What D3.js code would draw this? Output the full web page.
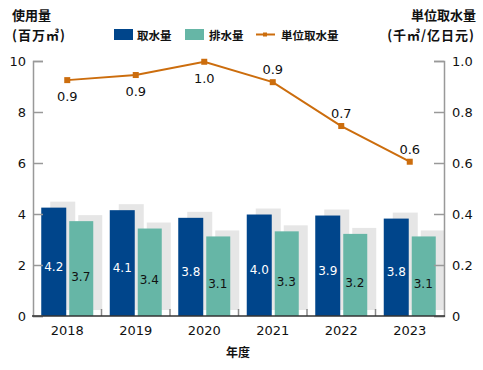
<!DOCTYPE html>
<html>
<head>
<meta charset="utf-8">
<script src="https://cdn.jsdelivr.net/npm/d3@7"></script>
<style>
  body { margin: 0; background: #fff; }
  text { font-family: 'DejaVu Sans', sans-serif; }
  .cjk { font-family: 'Noto Sans CJK JP', sans-serif; font-weight: 700; }
</style>
</head>
<body>
<div id="chart"></div>
<script>
const years = ['2018', '2019', '2020', '2021', '2022', '2023'];
const intake = [4.25, 4.15, 3.85, 3.98, 3.94, 3.82];
const intakeLabels = ['4.2', '4.1', '3.8', '4.0', '3.9', '3.8'];
const discharge = [3.72, 3.43, 3.12, 3.32, 3.22, 3.12];
const dischargeLabels = ['3.7', '3.4', '3.1', '3.3', '3.2', '3.1'];
const unitIntake = [0.925, 0.945, 0.997, 0.917, 0.745, 0.605];
const unitLabels = ['0.9', '0.9', '1.0', '0.9', '0.7', '0.6'];
const unitBelow = [true, true, true, false, false, false];
const leftTicks = [0, 2, 4, 6, 8, 10];
const rightTicks = [0, 0.2, 0.4, 0.6, 0.8, 1.0];

const W = 483, H = 370;
const blue = '#00458b', teal = '#66b6a6', grey = '#e6e6e6', orange = '#cc6d0d';

const svg = d3.select('#chart').append('svg')
    .attr('width', W).attr('height', H);

const x = d3.scaleBand().domain(years).range([33, 444]);
const y = d3.scaleLinear().domain([0, 10]).range([316, 61]);
const y2 = d3.scaleLinear().domain([0, 1]).range([316, 61]);

const barW = 25, shX = 9, shY = 6;
const cx = d => x(d) + x.bandwidth() / 2;

svg.append('defs').append('clipPath').attr('id', 'plot')
    .append('rect').attr('x', 33).attr('y', 0).attr('width', 411).attr('height', 316);

// shadow bars
const shadow = svg.append('g').attr('clip-path', 'url(#plot)');
years.forEach((yr, i) => {
  shadow.append('rect')
      .attr('x', cx(yr) - 26 + shX).attr('y', y(intake[i]) - shY)
      .attr('width', barW).attr('height', y(0) - y(intake[i]))
      .attr('fill', grey);
  shadow.append('rect')
      .attr('x', cx(yr) + 2 + shX).attr('y', y(discharge[i]) - shY)
      .attr('width', barW - 1).attr('height', y(0) - y(discharge[i]))
      .attr('fill', grey);
});

// bars
svg.append('g').selectAll('rect').data(years).join('rect')
    .attr('x', d => cx(d) - 26)
    .attr('y', (d, i) => y(intake[i]))
    .attr('width', barW)
    .attr('height', (d, i) => y(0) - y(intake[i]))
    .attr('fill', blue);

svg.append('g').selectAll('rect').data(years).join('rect')
    .attr('x', d => cx(d) + 2)
    .attr('y', (d, i) => y(discharge[i]))
    .attr('width', barW - 1)
    .attr('height', (d, i) => y(0) - y(discharge[i]))
    .attr('fill', teal);

// bar labels
svg.append('g').selectAll('text').data(years).join('text')
    .attr('x', d => cx(d) - 13.5)
    .attr('y', (d, i) => (y(intake[i]) + y(0)) / 2 + 9)
    .attr('text-anchor', 'middle')
    .attr('font-size', 12)
    .attr('fill', '#fff')
    .text((d, i) => intakeLabels[i]);

svg.append('g').selectAll('text').data(years).join('text')
    .attr('x', d => cx(d) + 13.5)
    .attr('y', (d, i) => (y(discharge[i]) + y(0)) / 2 + 12)
    .attr('text-anchor', 'middle')
    .attr('font-size', 12)
    .attr('fill', '#111')
    .text((d, i) => dischargeLabels[i]);

// axes
const axL = svg.append('g').attr('transform', 'translate(33,0)')
    .call(d3.axisRight(y).tickValues(leftTicks).tickSize(10).tickFormat(''));
axL.select('.domain').attr('stroke', '#999').attr('stroke-width', 1.5);
axL.selectAll('.tick line').attr('stroke', '#999').attr('stroke-width', 1.5);
svg.append('g').selectAll('text').data(leftTicks).join('text')
    .attr('x', 26).attr('y', d => y(d) + 5)
    .attr('text-anchor', 'end').attr('font-size', 13).attr('fill', '#111')
    .text(d => d);

const axR = svg.append('g').attr('transform', 'translate(444,0)')
    .call(d3.axisLeft(y2).tickValues(rightTicks).tickSize(10).tickFormat(''));
axR.select('.domain').attr('stroke', '#999').attr('stroke-width', 1.5);
axR.selectAll('.tick line').attr('stroke', '#999').attr('stroke-width', 1.5);
svg.append('g').selectAll('text').data(rightTicks).join('text')
    .attr('x', 452).attr('y', d => y2(d) + 5)
    .attr('font-size', 13).attr('fill', '#111')
    .text(d => d === 0 ? '0' : d.toFixed(1));

const bounds = years.slice(1).map(d => x(d));
svg.append('g').selectAll('line').data(bounds).join('line')
    .attr('x1', d => d).attr('x2', d => d)
    .attr('y1', 316).attr('y2', 309)
    .attr('stroke', '#888').attr('stroke-width', 1.5);
svg.append('line')
    .attr('x1', 32).attr('x2', 445).attr('y1', 316).attr('y2', 316)
    .attr('stroke', '#333').attr('stroke-width', 1.5);

svg.append('g').selectAll('text').data(years).join('text')
    .attr('x', d => cx(d)).attr('y', 335)
    .attr('text-anchor', 'middle').attr('font-size', 13).attr('fill', '#111')
    .text(d => d);

svg.append('text').attr('class', 'cjk')
    .attr('x', 238).attr('y', 357).attr('text-anchor', 'middle')
    .attr('font-size', 12).attr('fill', '#111').text('年度');

// line
const line = d3.line()
    .x((d, i) => cx(years[i]))
    .y(d => y2(d));
svg.append('path').datum(unitIntake)
    .attr('d', line).attr('fill', 'none')
    .attr('stroke', orange).attr('stroke-width', 2);
svg.append('g').selectAll('rect').data(unitIntake).join('rect')
    .attr('x', (d, i) => cx(years[i]) - 3)
    .attr('y', d => y2(d) - 3)
    .attr('width', 6).attr('height', 6)
    .attr('fill', orange);
svg.append('g').selectAll('text').data(unitIntake).join('text')
    .attr('x', (d, i) => cx(years[i]))
    .attr('y', (d, i) => unitBelow[i] ? y2(d) + 21 : y2(d) - 8)
    .attr('text-anchor', 'middle').attr('font-size', 13).attr('fill', '#111')
    .text((d, i) => unitLabels[i]);

// titles
const titles = [
  ['使用量', 12, 20, 'start'],
  ['(百万㎥)', 12, 40, 'start'],
  ['単位取水量', 476, 20, 'end'],
  ['(千㎥/亿日元)', 475, 40, 'end']
];
svg.append('g').selectAll('text').data(titles).join('text')
    .attr('class', 'cjk')
    .attr('x', d => d[1]).attr('y', d => d[2])
    .attr('text-anchor', d => d[3])
    .attr('font-size', 13).attr('letter-spacing', (d, i) => i % 2 ? 1 : 0)
    .attr('fill', '#111')
    .text(d => d[0]);

// legend
const lg = svg.append('g');
lg.append('rect').attr('x', 114).attr('y', 29).attr('width', 19).attr('height', 11).attr('fill', blue);
lg.append('text').attr('class', 'cjk').attr('x', 137).attr('y', 39.5).attr('font-size', 11.5).attr('fill', '#111').text('取水量');
lg.append('rect').attr('x', 185).attr('y', 29).attr('width', 19).attr('height', 11).attr('fill', teal);
lg.append('text').attr('class', 'cjk').attr('x', 209).attr('y', 39.5).attr('font-size', 11.5).attr('fill', '#111').text('排水量');
lg.append('line').attr('x1', 256).attr('x2', 275).attr('y1', 34.5).attr('y2', 34.5).attr('stroke', orange).attr('stroke-width', 2);
lg.append('rect').attr('x', 263).attr('y', 32.5).attr('width', 4).attr('height', 4).attr('fill', orange);
lg.append('text').attr('class', 'cjk').attr('x', 281).attr('y', 39.5).attr('font-size', 11.5).attr('fill', '#111').text('単位取水量');
</script>
</body>
</html>
